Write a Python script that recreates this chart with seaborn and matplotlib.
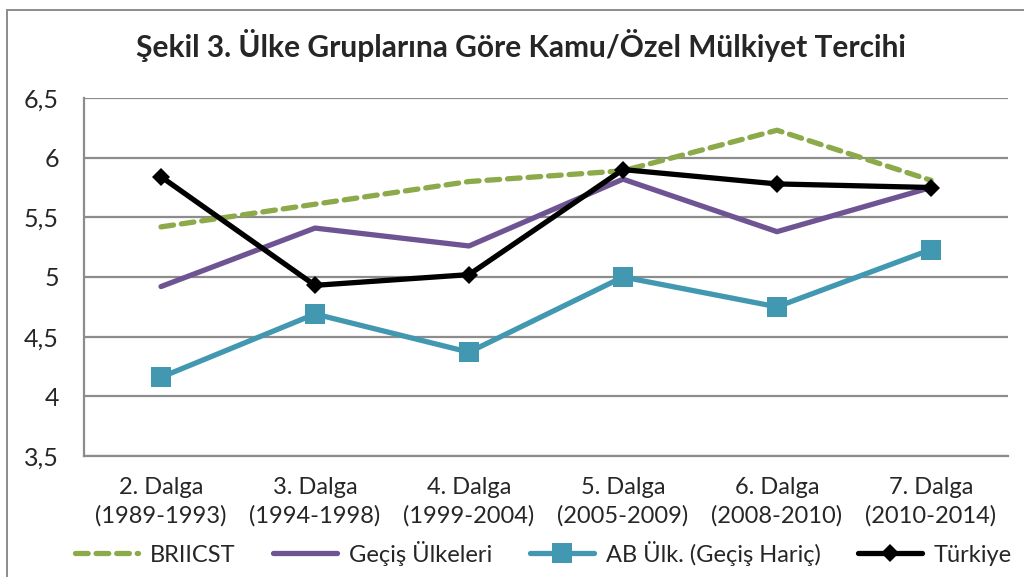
import matplotlib
matplotlib.use("Agg")
import matplotlib.pyplot as plt
import seaborn as sns
import pandas as pd
from matplotlib.patches import Rectangle
from matplotlib.ticker import FuncFormatter, FixedLocator

# data
waves = ["2. Dalga\n(1989-1993)", "3. Dalga\n(1994-1998)", "4. Dalga\n(1999-2004)",
         "5. Dalga\n(2005-2009)", "6. Dalga\n(2008-2010)", "7. Dalga\n(2010-2014)"]
briicst = [5.42, 5.61, 5.80, 5.89, 6.23, 5.81]
gecis = [4.92, 5.41, 5.26, 5.82, 5.38, 5.75]
ab = [4.16, 4.69, 4.37, 5.00, 4.75, 5.23]
turkiye = [5.84, 4.93, 5.02, 5.90, 5.78, 5.75]
labels = ["BRIICST", "Geçiş Ülkeleri", "AB Ülk. (Geçiş Hariç)", "Türkiye"]

sns.set_style("white")
plt.rcParams['font.family'] = ['Lato', 'DejaVu Sans']

fig = plt.figure(figsize=(10.24, 5.77), dpi=100)
ax = fig.add_axes([84 / 1024, 1 - 456 / 577, (1008 - 84) / 1024, (456 - 98) / 577])

pos = list(range(len(waves)))
df = pd.DataFrame({"x": pos, "BRIICST": briicst, "Gecis": gecis, "AB": ab, "Turkiye": turkiye})

sns.lineplot(data=df, x="x", y="BRIICST", ax=ax, color="#8CAA4A", lw=3.8,
             label=labels[0], linestyle=(0, (2.4, 1.5)), dash_capstyle="round")
sns.lineplot(data=df, x="x", y="Gecis", ax=ax, color="#6F5493", lw=3.8, label=labels[1])
sns.lineplot(data=df, x="x", y="AB", ax=ax, color="#4298B1", lw=3.8, label=labels[2],
             marker="s", markersize=14, markeredgewidth=0)
sns.lineplot(data=df, x="x", y="Turkiye", ax=ax, color="black", lw=3.8, label=labels[3],
             marker="D", markersize=9, markeredgewidth=0)

fs = 17
ax.set_xlim(-0.5, len(waves) - 0.5)
ax.set_ylim(3.5, 6.5)
ax.set_yticks([3.5, 4, 4.5, 5, 5.5, 6, 6.5])
ax.yaxis.set_major_formatter(FuncFormatter(lambda v, p: f"{v:g}".replace(".", ",")))
ax.set_xticks(pos)
ax.set_xticklabels(waves, fontsize=fs, linespacing=1.4)
ax.xaxis.set_minor_locator(FixedLocator([p - 0.5 for p in pos] + [len(waves) - 0.5]))
ax.tick_params(axis="x", which="major", length=0, pad=15)
ax.tick_params(axis="x", which="minor", length=6, color="#888888", width=1.2, direction="out")
ax.tick_params(axis="y", length=6, color="#888888", width=1.2, labelsize=18, pad=12)
ax.set_xlabel("")
ax.set_ylabel("")

ax.grid(axis="y", color="#8C8C8C", lw=1.6)
ax.set_axisbelow(True)
for s in ["top", "right"]:
    ax.spines[s].set_visible(False)
for s in ["left", "bottom"]:
    ax.spines[s].set_color("#8C8C8C")
    ax.spines[s].set_linewidth(1.6)

ax.legend(loc="center", bbox_to_anchor=(0.497, -0.271), ncol=4, frameon=False,
          fontsize=fs, handlelength=2.7, columnspacing=1.6, handletextpad=0.5)

fig.text(521 / 1024, 1 - 45 / 577, "Şekil 3. Ülke Gruplarına Göre Kamu/Özel Mülkiyet Tercihi",
         ha="center", va="center", fontsize=21.5, fontweight="bold")

# outer chart frame
fig.patches.append(Rectangle((7 / 1024, -0.1), 1.2, 1 - 10 / 577 + 0.1, transform=fig.transFigure,
                             fill=False, edgecolor="#8C8C8C", lw=1.4))

fig.savefig("out.png", dpi=100)
